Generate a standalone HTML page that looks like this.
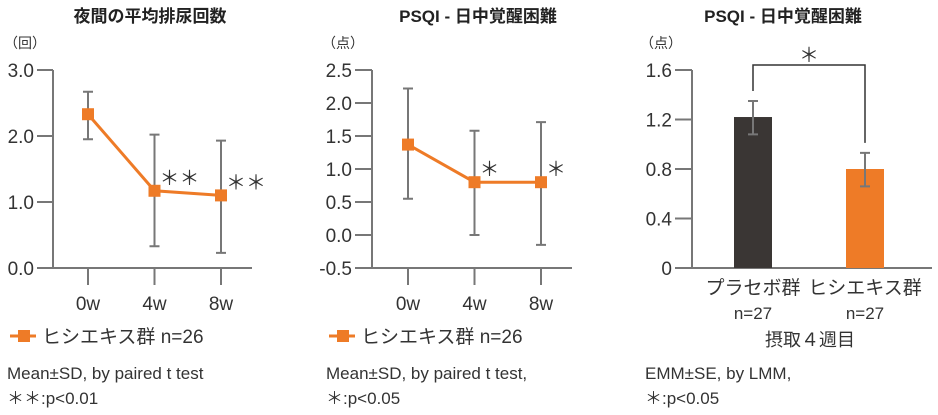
<!DOCTYPE html>
<html><head><meta charset="utf-8"><style>
html,body{margin:0;padding:0;background:#fff;}
svg{display:block;font-family:"Liberation Sans","Noto Sans CJK JP",sans-serif;}
</style></head><body>
<svg id="c" width="938" height="415" viewBox="0 0 938 415">
<text x="150" y="22" text-anchor="middle" font-size="17" font-weight="bold" fill="#222">夜間の平均排尿回数</text>
<text x="4" y="48" font-size="14" fill="#333">（回）</text>
<text x="478" y="22" text-anchor="middle" font-size="17" font-weight="bold" fill="#222">PSQI - 日中覚醒困難</text>
<text x="322" y="48" font-size="14" fill="#333">（点）</text>
<text x="783" y="22" text-anchor="middle" font-size="17" font-weight="bold" fill="#222">PSQI - 日中覚醒困難</text>
<text x="640" y="48" font-size="14" fill="#333">（点）</text>
<g>
<line x1="10" y1="336" x2="36" y2="336" stroke="#ee7b27" stroke-width="3"/><rect x="18" y="330" width="12" height="12" fill="#ee7b27"/>
<text x="42" y="343" font-size="19" fill="#333">ヒシエキス群 n=26</text></g>
<g>
<line x1="329" y1="336" x2="355" y2="336" stroke="#ee7b27" stroke-width="3"/><rect x="337" y="330" width="12" height="12" fill="#ee7b27"/>
<text x="361" y="343" font-size="19" fill="#333">ヒシエキス群 n=26</text></g>
<text x="7" y="379" font-size="17" fill="#333">Mean±SD, by paired t test</text>
<text x="7" y="404" font-size="17" fill="#333">＊＊:p&lt;0.01</text>
<text x="326" y="379" font-size="17" fill="#333">Mean±SD, by paired t test,</text>
<text x="326" y="404" font-size="17" fill="#333">＊:p&lt;0.05</text>
<text x="645" y="379" font-size="17" fill="#333">EMM±SE, by LMM,</text>
<text x="645" y="404" font-size="17" fill="#333">＊:p&lt;0.05</text>
</svg>
<script>
const weeks = ["0w","4w","8w"];
const c1Ticks = [0,1,2,3];
const c1Labels = ["0.0","1.0","2.0","3.0"];
const c1Mean = [2.33,1.17,1.10];
const c1Lo = [1.95,0.33,0.23];
const c1Hi = [2.67,2.02,1.93];
const c1Sig = ["","＊＊","＊＊"];
const c2Ticks = [-0.5,0,0.5,1,1.5,2,2.5];
const c2Labels = ["-0.5","0.0","0.5","1.0","1.5","2.0","2.5"];
const c2Mean = [1.37,0.80,0.80];
const c2Lo = [0.55,0.00,-0.15];
const c2Hi = [2.22,1.58,1.71];
const c2Sig = ["","＊","＊"];
const groups = ["プラセボ群","ヒシエキス群"];
const groupN = ["n=27","n=27"];
const c3Ticks = [0,0.4,0.8,1.2,1.6];
const c3Labels = ["0","0.4","0.8","1.2","1.6"];
const c3Mean = [1.22,0.80];
const c3Lo = [1.08,0.66];
const c3Hi = [1.35,0.93];

const svg = document.getElementById('c');
const NS = "http://www.w3.org/2000/svg";
function mk(tag, attrs, parent){const e=document.createElementNS(NS,tag);for(const k in attrs)e.setAttribute(k,attrs[k]);(parent||svg).appendChild(e);return e;}
const GRAY="#777", OR="#ee7b27";

function lineChart(id, ax, axL, axR, x0, dx, ticks, labels, mean, lo, hi, sig){
  const vmin=ticks[0], vmax=ticks[ticks.length-1];
  const y=v=>268-(v-vmin)/(vmax-vmin)*198;
  const x=i=>x0+i*dx;
  const g=mk('g',{});
  
  
  const ya=mk('line',{x1:ax,y1:70,x2:ax,y2:268,stroke:GRAY,'stroke-width':2},g);
  
  
  const xa=mk('line',{x1:axL,y1:268,x2:axR,y2:268,stroke:GRAY,'stroke-width':2},g);
  
  
  ticks.forEach((t,i)=>{
    mk('line',{x1:axL,y1:y(t),x2:ax,y2:y(t),stroke:GRAY,'stroke-width':2},g);
    const tl=mk('text',{x:axL-3,y:y(t)+7,'text-anchor':'end','font-size':19,fill:'#333'},g);
    tl.textContent=labels[i];
    
    
  });
  weeks.forEach((w,i)=>{
    mk('line',{x1:x(i),y1:268,x2:x(i),y2:285,stroke:GRAY,'stroke-width':2},g);
    const tl=mk('text',{x:x(i),y:310,'text-anchor':'middle','font-size':19,fill:'#333'},g);
    tl.textContent=w;
    
    
  });
  mean.forEach((m,i)=>{
    const eb=mk('path',{d:`M${x(i)-5} ${y(hi[i])}H${x(i)+5}M${x(i)} ${y(hi[i])}V${y(lo[i])}M${x(i)-5} ${y(lo[i])}H${x(i)+5}`,stroke:GRAY,'stroke-width':2,fill:'none'},g);
    
    
  });
  const ln=mk('polyline',{points:mean.map((m,i)=>x(i)+','+y(m)).join(' '),stroke:OR,'stroke-width':3,fill:'none'},g);
  
  
  mean.forEach((m,i)=>{
    const p=mk('rect',{x:x(i)-6,y:y(m)-6,width:12,height:12,fill:OR},g);
    
    
    if(sig[i]){
      const s=mk('text',{x:x(i)+5,y:y(m)-6,'font-size':20,fill:'#333'},g);
      s.textContent=sig[i];
      
      
    }
  });
}
lineChart('chart1',53,37,252,88,66.5,c1Ticks,c1Labels,c1Mean,c1Lo,c1Hi,c1Sig);
lineChart('chart2',372,355,572,408,66.5,c2Ticks,c2Labels,c2Mean,c2Lo,c2Hi,c2Sig);

(function(){
  const id='chart3';
  const y=v=>268-v/1.6*198;
  const bx=[753,865];
  const cols=["#3a3634",OR];
  const g=mk('g',{});
  
  
  const ya=mk('line',{x1:692,y1:70,x2:692,y2:268,stroke:GRAY,'stroke-width':2},g);
  
  
  const xa=mk('line',{x1:675,y1:268,x2:932,y2:268,stroke:GRAY,'stroke-width':2},g);
  
  
  c3Ticks.forEach((t,i)=>{
    mk('line',{x1:675,y1:y(t),x2:692,y2:y(t),stroke:GRAY,'stroke-width':2},g);
    const tl=mk('text',{x:672,y:y(t)+7,'text-anchor':'end','font-size':19,fill:'#333'},g);
    tl.textContent=c3Labels[i];
    
    
  });
  c3Mean.forEach((m,i)=>{
    const b=mk('rect',{x:bx[i]-19,y:y(m),width:38,height:268-y(m),fill:cols[i]},g);
    
    
    const eb=mk('path',{d:`M${bx[i]-5} ${y(c3Hi[i])}H${bx[i]+5}M${bx[i]} ${y(c3Hi[i])}V${y(c3Lo[i])}M${bx[i]-5} ${y(c3Lo[i])}H${bx[i]+5}`,stroke:GRAY,'stroke-width':2,fill:'none'},g);
    
    
    const l1=mk('text',{x:bx[i],y:294,'text-anchor':'middle','font-size':19,fill:'#333'},g);
    l1.textContent=groups[i];
    
    
    const l2=mk('text',{x:bx[i],y:319,'text-anchor':'middle','font-size':17,fill:'#333'},g);
    l2.textContent=groupN[i];
    
    
  });
  const br=mk('path',{d:`M${bx[0]} ${y(c3Hi[0])-10}V65H${bx[1]}V${y(c3Hi[1])-10}`,stroke:'#333','stroke-width':1.5,fill:'none'},g);
  
  
  const st=mk('text',{x:809,y:62,'text-anchor':'middle','font-size':20,fill:'#333'},g);
  st.textContent='＊';
  
  
  const xt=mk('text',{x:810,y:346,'text-anchor':'middle','font-size':18,fill:'#333'},g);
  xt.textContent='摂取４週目';
  
  
})();
</script>
</body></html>
